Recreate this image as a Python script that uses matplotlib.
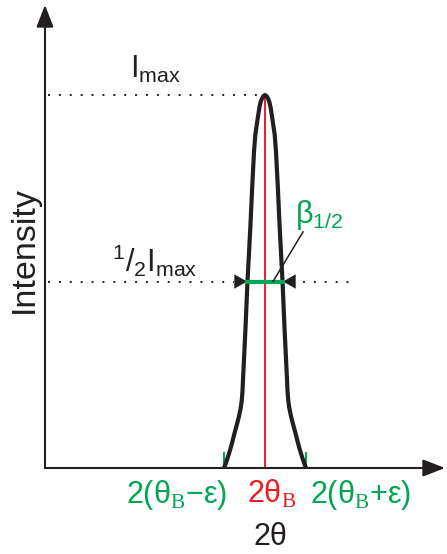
import numpy as np
import matplotlib
matplotlib.use('Agg')
import matplotlib.pyplot as plt

plt.rcParams['font.family'] = ['Liberation Sans', 'DejaVu Sans']
plt.rcParams['mathtext.fontset'] = 'custom'
plt.rcParams['mathtext.rm'] = 'Liberation Serif'
plt.rcParams['mathtext.sf'] = 'Liberation Sans'

BLACK = '#231f20'
RED = '#ed1c24'
GREEN = '#00a651'

# diffraction peak profile: relative intensity vs half-width (in units of epsilon)
peak_intensity = [0.0, 0.011, 0.027, 0.048, 0.07, 0.094, 0.115, 0.137, 0.16,
                  0.18, 0.205, 0.236, 0.37, 0.501, 0.638, 0.759, 0.848, 0.893,
                  0.9375, 0.965, 0.982, 0.992, 0.9973, 1.0]
peak_halfwidth = [1.0, 0.962, 0.912, 0.852, 0.797, 0.742, 0.69, 0.638, 0.594,
                  0.568, 0.55, 0.537, 0.478, 0.427, 0.361, 0.31, 0.268, 0.237,
                  0.178, 0.139, 0.105, 0.068, 0.037, 0.0]
two_theta_B = 0.0
epsilon = 1.0
beta_half = 0.44
i_max = 1.0

hw = np.array(peak_halfwidth)
inten = np.array(peak_intensity)
x_peak = np.concatenate([two_theta_B - hw, two_theta_B + hw[::-1]])
y_peak = np.concatenate([inten, inten[::-1]])

fig = plt.figure(figsize=(4.47, 5.54), dpi=100)
ax = fig.add_axes([45 / 447, 86 / 554, 400 / 447, 463 / 554])
ax.set_xlim(-5.366, 4.39)
ax.set_ylim(0, 1.2413)
ax.axis('off')

# axes with arrow heads
arrow_kw = dict(arrowstyle='-|>,head_length=0.9,head_width=0.35', color=BLACK,
                lw=1.5, shrinkA=0, shrinkB=0, mutation_scale=15)
ax.annotate('', xy=(1, 0), xytext=(0, 0), xycoords='axes fraction',
            arrowprops=arrow_kw, annotation_clip=False)
ax.annotate('', xy=(0, 1), xytext=(0, 0), xycoords='axes fraction',
            arrowprops=arrow_kw, annotation_clip=False)

# peak, centre line and limits
ax.plot([two_theta_B, two_theta_B], [0, i_max], color=RED, lw=1.4, zorder=2)
ax.plot(x_peak, y_peak, color=BLACK, lw=3.0, solid_joinstyle='round',
        solid_capstyle='round', zorder=3)
for xe in (two_theta_B - epsilon, two_theta_B + epsilon):
    ax.plot([xe, xe], [0, 0.04], color=GREEN, lw=1.5, zorder=2)

# dotted guide lines
dot = dict(color=BLACK, lw=1.4, linestyle=(0, (1, 4.6)))
ax.plot([-5.3, two_theta_B - 0.2], [i_max, i_max], **dot)
ax.plot([-5.3, -beta_half - 0.32], [i_max / 2, i_max / 2], **dot)
ax.plot([beta_half + 0.48, 2.1], [i_max / 2, i_max / 2], **dot)

# FWHM bar with inward arrow heads
ax.plot([-beta_half, beta_half], [i_max / 2, i_max / 2], color=GREEN, lw=3, zorder=4)
head_kw = dict(arrowstyle='-|>,head_length=0.7,head_width=0.4', color=BLACK,
               lw=0, shrinkA=0, shrinkB=0, mutation_scale=13)
ax.annotate('', xy=(-beta_half, i_max / 2), xytext=(-10, 0),
            textcoords='offset points', arrowprops=head_kw)
ax.annotate('', xy=(beta_half, i_max / 2), xytext=(10, 0),
            textcoords='offset points', arrowprops=head_kw)
ax.plot([0.927, 0.195], [0.633, 0.5], color=BLACK, lw=1.1, zorder=5)

fs = 22
ax.text(-3.3, 1.046, r'I$_{\mathsf{max}}$', fontsize=fs, color=BLACK, va='baseline')
ax.text(-3.73, 0.525, r'$^{\mathsf{1}}$/$_{\mathsf{2}}$I$_{\mathsf{max}}$',
        fontsize=fs, color=BLACK, va='baseline')
ax.text(0.73, 0.657, r'β$_{\mathsf{1/2}}$', fontsize=fs, color=GREEN, va='baseline')

ax.text(-3.39, -0.094, r'2(θ$_\mathrm{B}$−ε)', fontsize=fs, color=GREEN,
        va='baseline', clip_on=False)
ax.text(-0.44, -0.094, r'2θ$_\mathrm{B}$', fontsize=fs, color=RED,
        va='baseline', clip_on=False)
ax.text(1.10, -0.094, r'2(θ$_\mathrm{B}$+ε)', fontsize=fs, color=GREEN,
        va='baseline', clip_on=False)
ax.text(-0.28, -0.206, '2θ', fontsize=fs, color=BLACK, va='baseline', clip_on=False)

fig.text(24 / 447, 1 - 250 / 554, 'Intensity', fontsize=24.5, rotation=90,
         ha='center', va='center', color=BLACK)

fig.savefig('out.png', dpi=100)
